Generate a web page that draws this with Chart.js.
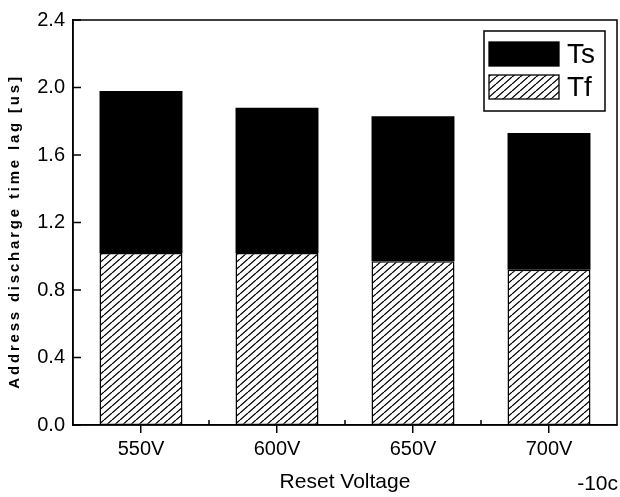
<!DOCTYPE html>
<html>
<head>
<meta charset="utf-8">
<script src="https://cdn.jsdelivr.net/npm/chart.js@4/dist/chart.umd.min.js"></script>
<style>
  html, body { margin: 0; padding: 0; background: #fff; }
  #wrap { position: relative; width: 620px; height: 497px; }
</style>
</head>
<body>
<div id="wrap"><canvas id="c" width="620" height="497"></canvas></div>
<script>
// Reset voltage sweep and the two components of the address discharge time lag (us)
const voltages = ['550V', '600V', '650V', '700V'];
const tfLag = [1.02, 1.02, 0.97, 0.92];   // formative lag, hatched lower segment
const tsLag = [0.96, 0.86, 0.86, 0.81];   // statistical lag, solid upper segment
const yTicks = [0, 0.4, 0.8, 1.2, 1.6, 2.0, 2.4];

const FONT = '"Liberation Sans", Arial, sans-serif';

// diagonal "/" hatch used for the Tf segments
function makeHatch(ctx) {
  const w = 8, h = 7;
  const tile = document.createElement('canvas');
  tile.width = w; tile.height = h;
  const t = tile.getContext('2d');
  t.fillStyle = '#fff';
  t.fillRect(0, 0, w, h);
  t.strokeStyle = '#000';
  t.lineWidth = 1.3;
  t.beginPath();
  for (let k = -1; k <= 1; k++) {
    t.moveTo(k * w, h);
    t.lineTo(k * w + w, 0);
  }
  t.stroke();
  return ctx.createPattern(tile, 'repeat');
}

const canvas = document.getElementById('c');
const ctx = canvas.getContext('2d');
const hatch = makeHatch(ctx);

// box frame, inward y ticks and minor x ticks, y title, legend and panel tag
const decorations = {
  id: 'decorations',
  afterDatasetsDraw(chart) {
    const { ctx, chartArea: a, scales: { x, y } } = chart;
    ctx.save();
    ctx.strokeStyle = '#000';
    ctx.lineWidth = 1.5;
    ctx.strokeRect(a.left, a.top, a.right - a.left, a.bottom - a.top);

    ctx.beginPath();
    y.ticks.forEach((tk, i) => {
      const py = y.getPixelForTick(i);
      ctx.moveTo(a.left, py);
      ctx.lineTo(a.left + 8, py);
    });
    for (let i = 1; i < x.ticks.length; i++) {
      const px = (x.getPixelForTick(i - 1) + x.getPixelForTick(i)) / 2;
      ctx.moveTo(px, a.bottom);
      ctx.lineTo(px, a.bottom - 5);
    }
    ctx.stroke();

    // y axis title, bold and letter-spaced
    ctx.save();
    ctx.translate(15, (a.top + a.bottom) / 2 + 9);
    ctx.rotate(-Math.PI / 2);
    ctx.font = 'bold 15px ' + FONT;
    ctx.letterSpacing = '2.8px';
    ctx.fillStyle = '#000';
    ctx.textAlign = 'center';
    ctx.textBaseline = 'middle';
    ctx.fillText('Address discharge time lag [us]', 0, 0);
    ctx.restore();

    // legend: Ts above Tf, inside the top-right corner
    const lx = a.right - 133, ly = a.top + 11, lw = 121, lh = 80;
    ctx.lineWidth = 1.5;
    ctx.strokeRect(lx, ly, lw, lh);
    const rows = [chart.data.datasets[1], chart.data.datasets[0]];
    rows.forEach((ds, i) => {
      const sx = lx + 5, sy = ly + 11 + i * 33, sw = 70, sh = 24;
      ctx.fillStyle = ds.backgroundColor;
      ctx.fillRect(sx, sy, sw, sh);
      ctx.lineWidth = 1.3;
      ctx.strokeRect(sx, sy, sw, sh);
      ctx.fillStyle = '#000';
      ctx.font = '28px ' + FONT;
      ctx.textAlign = 'left';
      ctx.textBaseline = 'middle';
      ctx.fillText(ds.label, sx + sw + 8, sy + sh / 2 + 1);
    });

    // panel tag
    ctx.font = '21px ' + FONT;
    ctx.textAlign = 'right';
    ctx.textBaseline = 'middle';
    ctx.fillText('-10c', chart.width - 2, 484);
    ctx.restore();
  }
};

new Chart(ctx, {
  type: 'bar',
  data: {
    labels: voltages,
    datasets: [
      {
        label: 'Tf',
        data: tfLag,
        backgroundColor: hatch,
        borderColor: '#000',
        borderWidth: 1.5,
        borderSkipped: false
      },
      {
        label: 'Ts',
        data: tsLag,
        backgroundColor: '#000',
        borderColor: '#000',
        borderWidth: 0
      }
    ]
  },
  options: {
    responsive: false,
    animation: false,
    events: [],
    layout: { padding: { top: 20, right: 3, left: 0, bottom: 0 } },
    datasets: { bar: { barPercentage: 0.61, categoryPercentage: 1 } },
    plugins: { legend: { display: false }, tooltip: { enabled: false } },
    scales: {
      x: {
        stacked: true,
        offset: true,
        grid: {
          display: true, drawOnChartArea: false, drawTicks: true,
          tickLength: 8, color: '#000', lineWidth: 1.5, offset: false
        },
        border: { display: true, color: '#000', width: 1.5 },
        ticks: { color: '#000', font: { family: FONT, size: 20 }, padding: 4 },
        title: {
          display: true, text: 'Reset Voltage', color: '#000',
          font: { family: FONT, size: 21 }, padding: { top: 0, bottom: 2 }
        },
        afterFit(s) { s.height = 72; }
      },
      y: {
        stacked: true,
        min: 0,
        max: 2.4,
        afterBuildTicks(s) { s.ticks = yTicks.map(v => ({ value: v })); },
        grid: { display: false, drawTicks: false },
        border: { display: true, color: '#000', width: 1.5 },
        ticks: {
          color: '#000', font: { family: FONT, size: 20 }, padding: 8,
          callback: v => Number(v).toFixed(1)
        },
        afterFit(s) { s.width = 73; }
      }
    }
  },
  plugins: [decorations]
});
</script>
</body>
</html>
